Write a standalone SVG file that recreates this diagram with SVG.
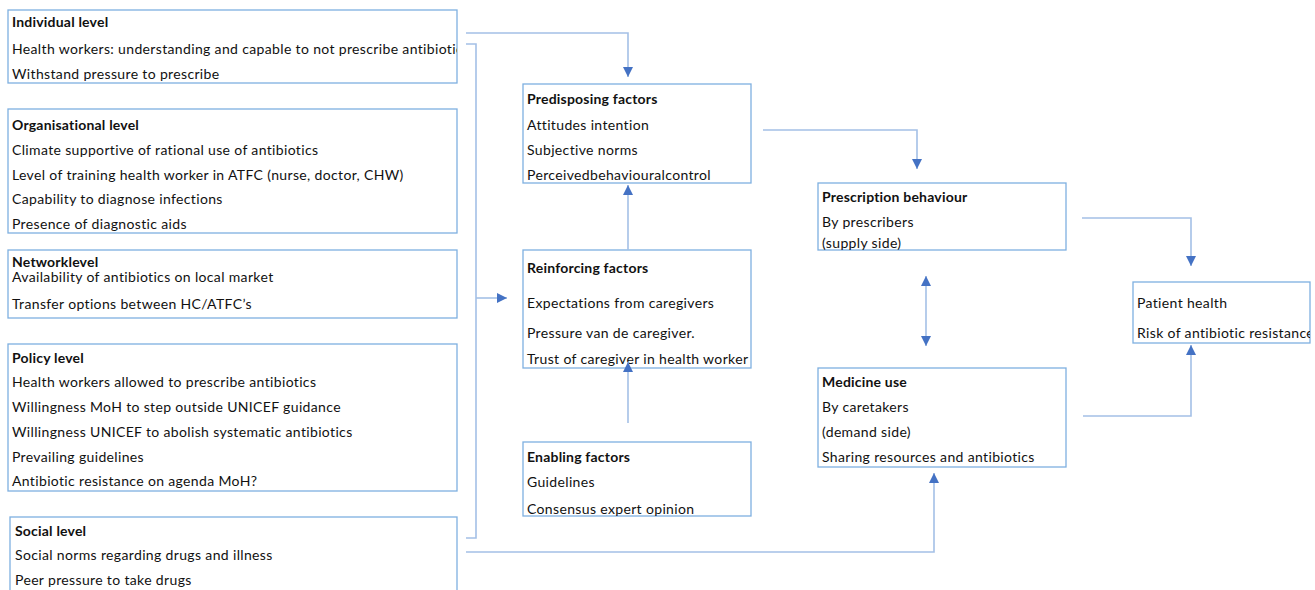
<svg xmlns="http://www.w3.org/2000/svg" width="1315" height="590" viewBox="0 0 1315 590">
<style>
  .box{fill:#ffffff;stroke:#7eb0e0;stroke-width:1.3}
  .t{font-family:Lato,"Liberation Sans",sans-serif;font-size:14px;letter-spacing:0.35px;fill:#111}
  .b{font-weight:bold;letter-spacing:0.2px}
  .c{fill:none;stroke:#a4c0e6;stroke-width:1.6}
</style>
<defs>
  <marker id="ah" viewBox="0 0 10 10" refX="10" refY="5" markerWidth="10" markerHeight="10" markerUnits="userSpaceOnUse" orient="auto-start-reverse">
    <path d="M0,0 L10,5 L0,10 Z" fill="#4472c4"/>
  </marker>
  <clipPath id="cInd"><rect x="8" y="10" width="449" height="73"/></clipPath>
  <clipPath id="cRein"><rect x="523" y="250" width="228" height="118"/></clipPath>
  <clipPath id="cPat"><rect x="1133" y="282" width="177" height="61"/></clipPath>
</defs>

<g id="individual">
  <rect class="box" x="8" y="10" width="449" height="73"/>
  <g clip-path="url(#cInd)">
    <text class="t b" x="12" y="27">Individual level</text>
    <text class="t" x="12" y="54">Health workers: understanding and capable to not prescribe antibiotics</text>
    <text class="t" x="12" y="79">Withstand pressure to prescribe</text>
  </g>
</g>

<g id="organisational">
  <rect class="box" x="8" y="109" width="449" height="124"/>
  <text class="t b" x="12" y="130">Organisational level</text>
  <text class="t" x="12" y="155">Climate supportive of rational use of antibiotics</text>
  <text class="t" x="12" y="180">Level of training health worker in ATFC (nurse, doctor, CHW)</text>
  <text class="t" x="12" y="204">Capability to diagnose infections</text>
  <text class="t" x="12" y="229">Presence of diagnostic aids</text>
</g>

<g id="network">
  <rect class="box" x="8" y="250" width="449" height="68"/>
  <text class="t b" x="12" y="267">Networklevel</text>
  <text class="t" x="12" y="282">Availability of antibiotics on local market</text>
  <text class="t" x="12" y="309">Transfer options between HC/ATFC’s</text>
</g>

<g id="policy">
  <rect class="box" x="8" y="344" width="449" height="147"/>
  <text class="t b" x="12" y="363">Policy level</text>
  <text class="t" x="12" y="387">Health workers allowed to prescribe antibiotics</text>
  <text class="t" x="12" y="412">Willingness MoH to step outside UNICEF guidance</text>
  <text class="t" x="12" y="437">Willingness UNICEF to abolish systematic antibiotics</text>
  <text class="t" x="12" y="462">Prevailing guidelines</text>
  <text class="t" x="12" y="486">Antibiotic resistance on agenda MoH?</text>
</g>

<g id="social">
  <rect class="box" x="10" y="517" width="447" height="90"/>
  <text class="t b" x="15" y="536">Social level</text>
  <text class="t" x="15" y="560">Social norms regarding drugs and illness</text>
  <text class="t" x="15" y="585">Peer pressure to take drugs</text>
</g>

<g id="predisposing">
  <rect class="box" x="523" y="84" width="228" height="99"/>
  <text class="t b" x="527" y="104">Predisposing factors</text>
  <text class="t" x="527" y="130">Attitudes intention</text>
  <text class="t" x="527" y="155">Subjective norms</text>
  <text class="t" x="527" y="180">Perceivedbehaviouralcontrol</text>
</g>

<g id="reinforcing">
  <rect class="box" x="523" y="250" width="228" height="118"/>
  <g clip-path="url(#cRein)">
    <text class="t b" x="527" y="273">Reinforcing factors</text>
    <text class="t" x="527" y="308">Expectations from caregivers</text>
    <text class="t" x="527" y="338">Pressure van de caregiver.</text>
    <text class="t" x="527" y="364">Trust of caregiver in health worker</text>
  </g>
</g>

<g id="enabling">
  <rect class="box" x="523" y="442" width="228" height="74"/>
  <text class="t b" x="527" y="462">Enabling factors</text>
  <text class="t" x="527" y="487">Guidelines</text>
  <text class="t" x="527" y="514">Consensus expert opinion</text>
</g>

<g id="prescription">
  <rect class="box" x="818" y="183" width="248" height="67"/>
  <text class="t b" x="822" y="202">Prescription behaviour</text>
  <text class="t" x="822" y="227">By prescribers</text>
  <text class="t" x="822" y="248">(supply side)</text>
</g>

<g id="medicine">
  <rect class="box" x="818" y="368" width="248" height="99"/>
  <text class="t b" x="822" y="387">Medicine use</text>
  <text class="t" x="822" y="412">By caretakers</text>
  <text class="t" x="822" y="437">(demand side)</text>
  <text class="t" x="822" y="462">Sharing resources and antibiotics</text>
</g>

<g id="patient">
  <rect class="box" x="1133" y="282" width="177" height="61"/>
  <g clip-path="url(#cPat)">
    <text class="t" x="1137" y="308">Patient health</text>
    <text class="t" x="1137" y="338">Risk of antibiotic resistance</text>
  </g>
</g>

<g id="connectors">
  <path class="c" d="M466,33 H628 V77" marker-end="url(#ah)"/>
  <path class="c" d="M466,44 H476 V538 H466"/>
  <path class="c" d="M476,298 H507" marker-end="url(#ah)"/>
  <path class="c" d="M628,250 V185" marker-end="url(#ah)"/>
  <path class="c" d="M628,423 V362" marker-end="url(#ah)"/>
  <path class="c" d="M763,130 H917 V169" marker-end="url(#ah)"/>
  <path class="c" d="M926,276 V346" marker-start="url(#ah)" marker-end="url(#ah)"/>
  <path class="c" d="M1082,218 H1191 V266" marker-end="url(#ah)"/>
  <path class="c" d="M1083,416 H1191 V345" marker-end="url(#ah)"/>
  <path class="c" d="M466,552 H934 V473" marker-end="url(#ah)"/>
</g>
</svg>
